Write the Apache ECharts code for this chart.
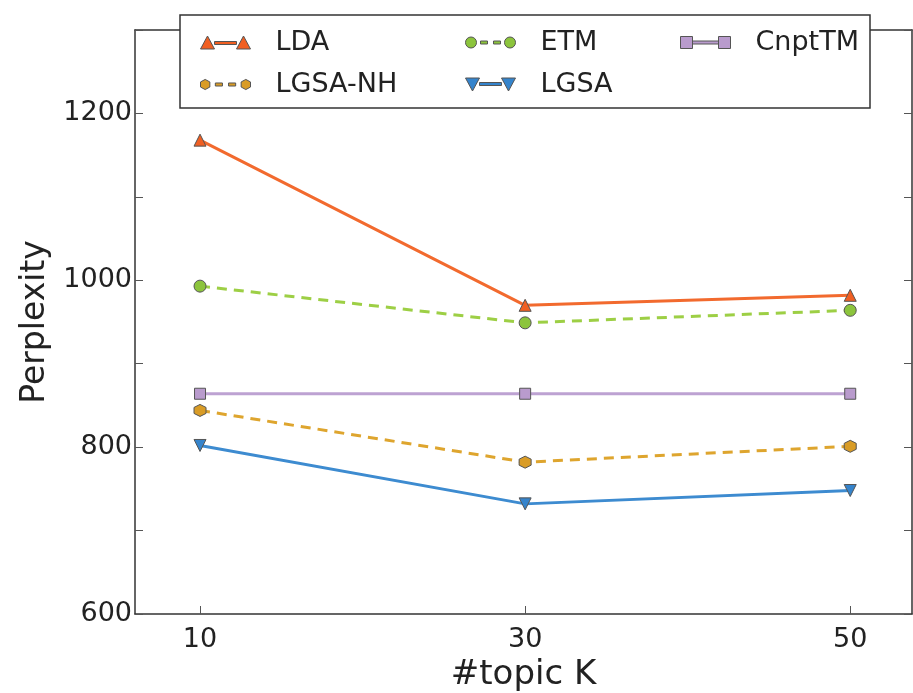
<!DOCTYPE html>
<html>
<head>
<meta charset="utf-8">
<script src="https://cdn.jsdelivr.net/npm/echarts@6/dist/echarts.min.js"></script>
<style>
html, body { margin: 0; padding: 0; background: #fff; }
#main { width: 913px; height: 693px; }
</style>
</head>
<body>
<div id="main"></div>
<script>
var topics = [10, 30, 50];
var yTickLabels = [600, 800, 1000, 1200];
var lda = [1168, 970, 982];
var lgsaNH = [844, 782, 801];
var etm = [993, 949, 964];
var lgsa = [802, 732, 748];
var cnptTM = [864, 864, 864];

var FONT = 'DejaVu Sans';
var TXT = '#222';

function pairs(vals) {
	return topics.map(function (t, i) { return [t, vals[i]]; });
}

var hexagon = 'path://M5,0 L9.33,2.5 L9.33,7.5 L5,10 L0.67,7.5 L0.67,2.5 Z';

// legend icons: marker - line - marker
var icoTri = 'path://M0,15 L7,2 L14,15 Z M14,7.5 L36,7.5 L36,10.5 L14,10.5 Z M36,15 L43,2 L50,15 Z';
var icoTriDown = 'path://M0,2 L7,15 L14,2 Z M14,6.5 L36,6.5 L36,9.5 L14,9.5 Z M36,2 L43,15 L50,2 Z';
var icoCirc = 'path://M0,8 A5.5,5.5 0 1,1 11,8 A5.5,5.5 0 1,1 0,8 Z M15,6.5 L22,6.5 L22,9.5 L15,9.5 Z M28,6.5 L35,6.5 L35,9.5 L28,9.5 Z M39,8 A5.5,5.5 0 1,1 50,8 A5.5,5.5 0 1,1 39,8 Z';
var icoHex = 'path://M5,3 L9.6,5.5 L9.6,10.5 L5,13 L0.4,10.5 L0.4,5.5 Z M15,6.5 L22,6.5 L22,9.5 L15,9.5 Z M28,6.5 L35,6.5 L35,9.5 L28,9.5 Z M45,3 L49.6,5.5 L49.6,10.5 L45,13 L40.4,10.5 L40.4,5.5 Z';
var icoRect = 'path://M0,2 L12,2 L12,14 L0,14 Z M12,6.5 L38,6.5 L38,9.5 L12,9.5 Z M38,2 L50,2 L50,14 L38,14 Z';

function legendItem(name, icon, left, top) {
	return {
		data: [{name: name, icon: icon}],
		left: left, top: top,
		itemWidth: 50, itemHeight: 15,
		itemStyle: {borderColor: '#555', borderWidth: 1},
		textStyle: {fontFamily: FONT, fontSize: 27, color: TXT, padding: [0, 0, 0, 20]},
		z: 6
	};
}

function lineSeries(name, vals, color, markColor, symbol, dashed, rotate) {
	return {
		name: name,
		type: 'line',
		data: pairs(vals),
		symbol: symbol,
		symbolSize: symbol === 'rect' ? 11 : 12,
		symbolRotate: rotate || 0,
		lineStyle: {color: color, width: 3, type: dashed ? [10, 7] : 'solid'},
		itemStyle: {color: markColor, borderColor: '#555', borderWidth: 1},
		emphasis: {disabled: true},
		animation: false
	};
}

var myChart = echarts.init(document.getElementById('main'));

var option = {
	backgroundColor: '#fff',
	grid: {left: 135, right: 1, top: 30, bottom: 79, outerBoundsMode: 'none', containLabel: false},
	legend: [
		legendItem('LDA', icoTri, 195, 24),
		legendItem('LGSA-NH', icoHex, 195, 66),
		legendItem('ETM', icoCirc, 460, 24),
		legendItem('LGSA', icoTriDown, 460, 66),
		legendItem('CnptTM', icoRect, 675, 24)
	],
	graphic: [{
		type: 'rect',
		shape: {x: 180, y: 15, width: 690, height: 93},
		style: {fill: '#fff', stroke: '#333', lineWidth: 1.5},
		z: 5
	}],
	xAxis: [{
		type: 'value',
		min: 6, max: 53.8,
		name: '#topic K',
		nameLocation: 'middle',
		nameGap: 33,
		nameTextStyle: {fontFamily: FONT, fontSize: 34, color: TXT},
		axisLine: {show: true, lineStyle: {color: '#333', width: 1.5}},
		axisTick: {show: true, inside: true, length: 8, customValues: topics, lineStyle: {color: '#555'}},
		axisLabel: {fontFamily: FONT, fontSize: 27, color: TXT, margin: 12, customValues: topics},
		splitLine: {show: false}
	}, {
		type: 'value',
		position: 'top',
		min: 6, max: 53.8,
		axisLine: {show: true, onZero: false, lineStyle: {color: '#333', width: 1.5}},
		axisTick: {show: true, inside: true, length: 8, customValues: topics, lineStyle: {color: '#555'}},
		axisLabel: {show: false},
		splitLine: {show: false}
	}],
	yAxis: [{
		type: 'value',
		min: 600, max: 1300, interval: 100,
		name: 'Perplexity',
		nameLocation: 'middle',
		nameRotate: 90,
		nameGap: 82,
		nameTextStyle: {fontFamily: FONT, fontSize: 33, color: TXT},
		axisLine: {show: true, lineStyle: {color: '#333', width: 1.5}},
		axisTick: {show: true, inside: true, length: 8, lineStyle: {color: '#555'}},
		axisLabel: {
			fontFamily: FONT, fontSize: 27, color: TXT, margin: 3, customValues: yTickLabels,
			formatter: function (v) { return String(v); }
		},
		splitLine: {show: false}
	}, {
		type: 'value',
		position: 'right',
		min: 600, max: 1300, interval: 100,
		axisLine: {show: true, onZero: false, lineStyle: {color: '#333', width: 1.5}},
		axisTick: {show: true, inside: true, length: 8, lineStyle: {color: '#555'}},
		axisLabel: {show: false},
		splitLine: {show: false}
	}],
	series: [
		lineSeries('LDA', lda, '#f26a2e', '#f05f22', 'triangle', false),
		lineSeries('LGSA-NH', lgsaNH, '#dea52e', '#d99c26', hexagon, true),
		lineSeries('ETM', etm, '#9dcf45', '#8cc43c', 'circle', true),
		lineSeries('LGSA', lgsa, '#3d8bd0', '#3584cc', 'triangle', false, 180),
		lineSeries('CnptTM', cnptTM, '#bda2d2', '#b99bcd', 'rect', false)
	]
};
myChart.setOption(option);
</script>
</body>
</html>
